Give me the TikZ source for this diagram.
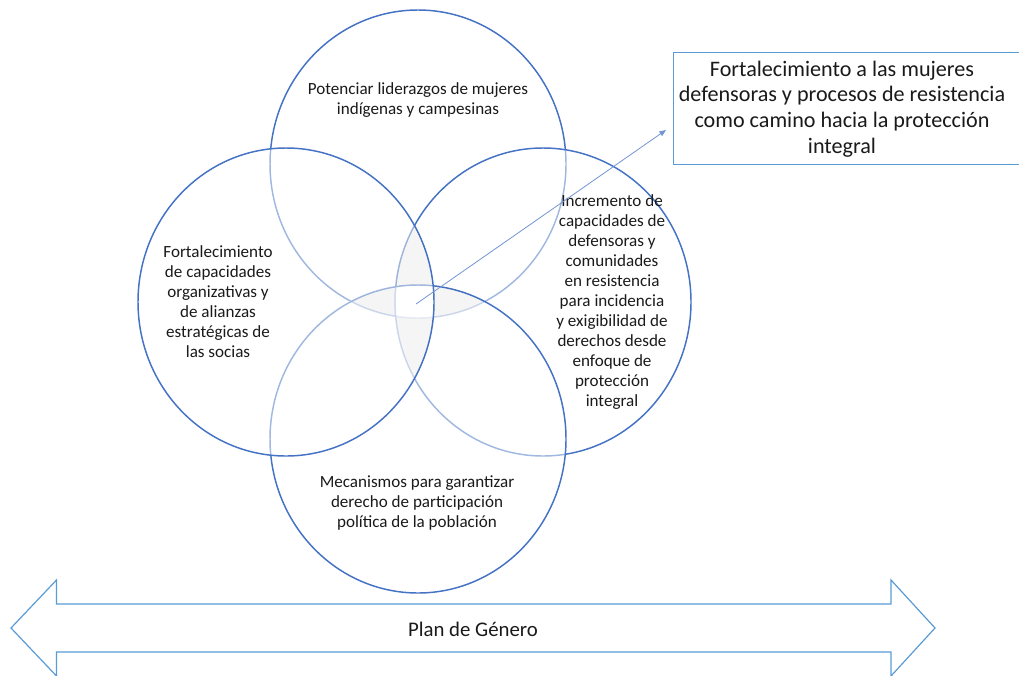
\documentclass[tikz,border=0pt]{standalone}
\usepackage{fontspec}
\setmainfont{Carlito}
\usetikzlibrary{arrows.meta}
\definecolor{vblue}{HTML}{4472C4}
\definecolor{lblue}{HTML}{5B9BD5}
\definecolor{txt}{HTML}{1A1A1A}
\begin{document}
\begin{tikzpicture}[x=0.75pt,y=0.75pt,
  ring/.style={draw=vblue, line width=1.1pt, fill=white, fill opacity=0.5},
  lbl/.style={align=center, font=\fontsize{12.8}{15}\selectfont, text=txt, inner sep=0pt},
  bigl/.style={align=center, font=\fontsize{16.6}{19.2}\selectfont, text=txt, inner sep=0pt},
  ell/.style={x radius=148, y radius=154},
]
\useasboundingbox (0,0) rectangle (1019,-675);
\clip (0,0) rectangle (1019,-675);
\coordinate (cT) at (418,-164);
\coordinate (cL) at (286,-302);
\coordinate (cR) at (543,-302);
\coordinate (cB) at (418,-439);

% circles, stacking order: top, right, bottom, left
\path[ring] (cT) ellipse [ell];
\path[ring] (cR) ellipse [ell];
\path[ring] (cB) ellipse [ell];
\path[ring] (cL) ellipse [ell];

% light grey on regions covered by exactly three circles
\begin{scope}[transparency group, opacity=0.035]
  \begin{scope}\clip (cT) ellipse [ell]; \clip (cL) ellipse [ell]; \fill[black] (cR) ellipse [ell];\end{scope}
  \begin{scope}\clip (cT) ellipse [ell]; \clip (cL) ellipse [ell]; \fill[black] (cB) ellipse [ell];\end{scope}
  \begin{scope}\clip (cT) ellipse [ell]; \clip (cR) ellipse [ell]; \fill[black] (cB) ellipse [ell];\end{scope}
  \begin{scope}\clip (cL) ellipse [ell]; \clip (cR) ellipse [ell]; \fill[black] (cB) ellipse [ell];\end{scope}
  \begin{scope}\clip (cT) ellipse [ell]; \clip (cL) ellipse [ell]; \clip (cR) ellipse [ell]; \fill[white] (cB) ellipse [ell];\end{scope}
\end{scope}

% circle texts
\node[lbl] (tT) at (418,-100) {Potenciar liderazgos de mujeres\\indígenas y campesinas};
\node[lbl] (tL) at (218,-302) {Fortalecimiento\\de capacidades\\organizativas y\\de alianzas\\estratégicas de\\las socias};
\node[lbl] (tR) at (612,-302) {Incremento de\\capacidades de\\defensoras y\\comunidades\\en resistencia\\para incidencia\\y exigibilidad de\\derechos desde\\enfoque de\\protección\\integral};
\node[lbl] (tB) at (417,-503) {Mecanismos para garantizar\\derecho de participación\\política de la población};

% result box (its right side lies beyond the picture's edge)
\fill[white] (673,-52) rectangle (1030,-164);
\draw[lblue, line width=0.7pt] (1030,-52) -- (673,-52) -- (673,-164) -- (1030,-164);
\node[bigl] (box) at (842,-109) {Fortalecimiento a las mujeres\\defensoras y procesos de resistencia\\como camino hacia la protección\\integral};

% arrow from the centre to the box
\coordinate (aS) at (416,-304);
\coordinate (aE) at (666,-130);
\draw[vblue!75, line width=0.6pt, -{Triangle[length=5pt,width=4pt]}] (aS) -- (aE);

% double arrow
\path[draw=lblue, line width=0.9pt, fill=white]
  (11,-628) -- (56.5,-580) -- (56.5,-604) -- (891,-604) -- (891,-580)
  -- (935,-628) -- (891,-676) -- (891,-652) -- (56.5,-652) -- (56.5,-676) -- cycle;
\node[bigl, font=\fontsize{15.6}{18}\selectfont] (plan) at (473,-629) {Plan de Género};
\end{tikzpicture}
\end{document}
